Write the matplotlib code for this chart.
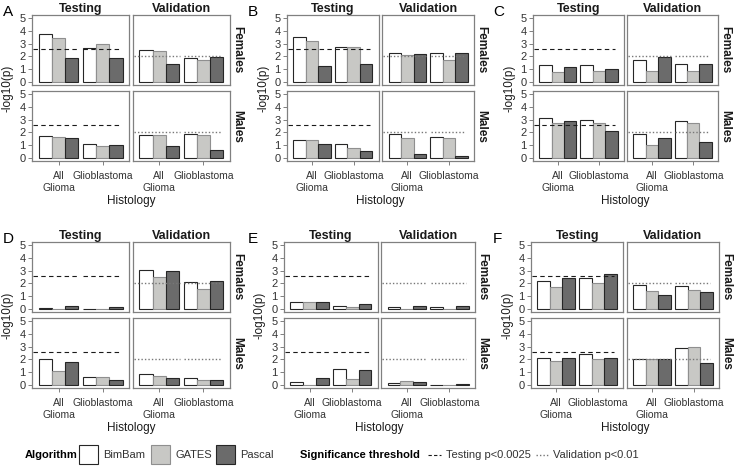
import numpy as np
import matplotlib.pyplot as plt
from matplotlib.patches import Rectangle
from matplotlib.lines import Line2D

plt.rcParams["font.family"] = ["Liberation Sans", "DejaVu Sans"]

algorithms = ["BimBam", "GATES", "Pascal"]
histology = ["All\nGlioma", "Glioblastoma"]
datasets = ["Testing", "Validation"]
sexes = ["Females", "Males"]
thresholds = [-np.log10(0.0025), -np.log10(0.01)]
threshold_labels = ["Testing p<0.0025", "Validation p<0.01"]

# -log10(p): rows = histology (All Glioma, Glioblastoma), cols = algorithm
A_test_fem = [[3.70, 3.45, 1.90], [2.65, 2.95, 1.90]]
A_val_fem = [[2.50, 2.40, 1.45], [1.85, 1.75, 1.95]]
A_test_male = [[1.75, 1.65, 1.55], [1.10, 0.95, 1.00]]
A_val_male = [[1.80, 1.80, 0.95], [1.90, 1.80, 0.65]]

B_test_fem = [[3.50, 3.20, 1.30], [2.75, 2.75, 1.40]]
B_val_fem = [[2.30, 2.10, 2.20], [2.30, 1.75, 2.30]]
B_test_male = [[1.45, 1.45, 1.10], [1.15, 0.80, 0.55]]
B_val_male = [[1.85, 1.55, 0.35], [1.65, 1.60, 0.15]]

C_test_fem = [[1.35, 0.80, 1.15], [1.35, 0.85, 1.05]]
C_val_fem = [[1.70, 0.90, 1.95], [1.45, 0.90, 1.40]]
C_test_male = [[3.15, 2.75, 2.85], [2.95, 2.70, 2.10]]
C_val_male = [[1.85, 1.00, 1.55], [2.85, 2.70, 1.25]]

D_test_fem = [[0.08, 0.02, 0.28], [0.02, 0.02, 0.22]]
D_val_fem = [[3.05, 2.50, 3.00], [2.15, 1.60, 2.20]]
D_test_male = [[2.00, 1.10, 1.80], [0.65, 0.65, 0.45]]
D_val_male = [[0.85, 0.70, 0.60], [0.55, 0.45, 0.40]]

E_test_fem = [[0.55, 0.55, 0.55], [0.25, 0.15, 0.40]]
E_val_fem = [[0.15, 0.00, 0.25], [0.15, 0.00, 0.25]]
E_test_male = [[0.30, 0.00, 0.55], [1.25, 0.50, 1.20]]
E_val_male = [[0.15, 0.35, 0.25], [0.02, 0.00, 0.10]]

F_test_fem = [[2.20, 1.70, 2.45], [2.45, 2.05, 2.75]]
F_val_fem = [[1.90, 1.40, 1.10], [1.80, 1.50, 1.35]]
F_test_male = [[2.10, 1.85, 2.10], [2.40, 2.00, 2.15]]
F_val_male = [[2.05, 2.05, 2.00], [2.85, 2.95, 1.75]]

panels = {
    "A": [[A_test_fem, A_val_fem], [A_test_male, A_val_male]],
    "B": [[B_test_fem, B_val_fem], [B_test_male, B_val_male]],
    "C": [[C_test_fem, C_val_fem], [C_test_male, C_val_male]],
    "D": [[D_test_fem, D_val_fem], [D_test_male, D_val_male]],
    "E": [[E_test_fem, E_val_fem], [E_test_male, E_val_male]],
    "F": [[F_test_fem, F_val_fem], [F_test_male, F_val_male]],
}

fill_colors = ["#ffffff", "#c8c8c5", "#6b6b6b"]
edge_colors = ["#262626", "#8f8f8f", "#262626"]
frame_col = "#808080"
text_col = "#333333"

W, H = 738, 466
fig = plt.figure(figsize=(W / 100, H / 100), dpi=100)


def add_ax(l, t, r, b):
    return fig.add_axes([l / W, 1 - b / H, (r - l) / W, (b - t) / H])


def fx(px):
    return px / W


def fy(py):
    return 1 - py / H


# panel layout in pixels: left edge of testing facet, right edge of validation facet, top
layout = {
    "A": (32, 230, 15), "B": (287, 474, 15), "C": (533, 718, 15),
    "D": (32, 230, 242), "E": (284, 475, 242), "F": (531, 719, 242),
}
letter_x = {"A": 3, "B": 248, "C": 493, "D": 3, "E": 248, "F": 493}

fh, vgap, hgap = 70, 6, 3.5
x = np.arange(1, len(histology) + 1)
bw = 0.3

for key, grid in panels.items():
    x0, x1, top = layout[key]
    fw = (x1 - x0 - hgap) / 2
    for r in range(2):
        for c in range(2):
            l = x0 + c * (fw + hgap)
            t = top + r * (fh + vgap)
            ax = add_ax(l, t, l + fw, t + fh)
            vals = np.array(grid[r][c])
            for j in range(3):
                ax.bar(x + (j - 1) * bw, vals[:, j], width=bw, color=fill_colors[j],
                       edgecolor=edge_colors[j], linewidth=0.8, zorder=2)
            thr = thresholds[c]
            if c == 0:
                ax.hlines([thr, thr], [0.42, 1.56], [1.47, 2.39], colors="#1a1a1a",
                          linestyles=(0, (4, 3)), linewidth=0.8, zorder=3)
            else:
                ax.hlines([thr, thr], [0.42, 1.56], [1.47, 2.39], colors="#777777",
                          linestyles=(0, (1, 1.5)), linewidth=1.0, zorder=3)
            ax.set_xlim(0.4, 2.6)
            ax.set_ylim(-0.2, 5.2)
            for s in ax.spines.values():
                s.set_color(frame_col)
                s.set_linewidth(0.9)
            ax.tick_params(colors=frame_col, labelcolor=text_col, labelsize=8,
                           length=3, width=0.7, pad=1.5)
            if c == 0:
                ax.set_yticks(range(6))
            else:
                ax.set_yticks([])
            if r == 1:
                ax.set_xticks(x)
                ax.set_xticklabels(histology, fontsize=7.5, linespacing=1.25)
                for lbl in ax.get_xticklabels():
                    lbl.set_horizontalalignment("center")
                    lbl.set_multialignment("center")
                ax.tick_params(axis="x", pad=4)
            else:
                ax.set_xticks([])
            if r == 0:
                ax.set_title(datasets[c], fontsize=9, fontweight="bold", pad=2, color="#1a1a1a")
            if c == 1:
                fig.text(fx(x1 + 7), fy(t + fh / 2), sexes[r], rotation=-90, fontsize=8.5,
                         fontweight="bold", ha="center", va="center", color="#1a1a1a")
    fig.text(fx(letter_x[key]), fy(top - 3), key, fontsize=11, ha="left", va="center")
    fig.text(fx(x0 - 24), fy(top + fh + vgap / 2), "-log10(p)", rotation=90, fontsize=8.5,
             ha="center", va="center", color="#1a1a1a")
    fig.text(fx((x0 + x1) / 2), fy(top + 186), "Histology", fontsize=8.5,
             ha="center", va="center", color="#1a1a1a")

# legend row
ly = 455
fig.text(fx(25), fy(ly), "Algorithm", fontsize=8, fontweight="bold", ha="left", va="center")
for j, (bx, tx) in enumerate([(79, 103), (151, 175), (216, 240)]):
    fig.add_artist(Rectangle((fx(bx), fy(ly + 9)), fx(19), 19 / H, transform=fig.transFigure,
                             facecolor=fill_colors[j], edgecolor=edge_colors[j], linewidth=0.8))
    fig.text(fx(tx), fy(ly), algorithms[j], fontsize=8, ha="left", va="center", color=text_col)

fig.text(fx(300), fy(ly), "Significance threshold", fontsize=8, fontweight="bold",
         ha="left", va="center")
fig.add_artist(Line2D([fx(428), fx(441)], [fy(ly), fy(ly)], transform=fig.transFigure,
                      color="#1a1a1a", linewidth=0.8, linestyle=(0, (3, 2))))
fig.text(fx(446), fy(ly), threshold_labels[0], fontsize=8, ha="left", va="center", color=text_col)
fig.add_artist(Line2D([fx(536), fx(548)], [fy(ly), fy(ly)], transform=fig.transFigure,
                      color="#777777", linewidth=1.0, linestyle=(0, (1, 1.5))))
fig.text(fx(553), fy(ly), threshold_labels[1], fontsize=8, ha="left", va="center", color=text_col)

fig.savefig("out.png", dpi=100)
